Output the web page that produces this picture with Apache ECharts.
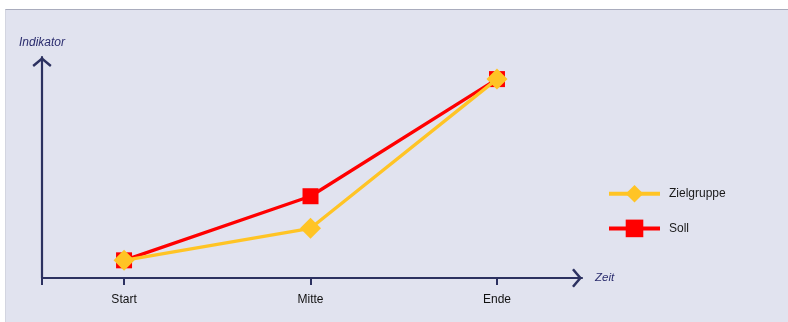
<!DOCTYPE html>
<html><head><meta charset="utf-8">
<script src="https://cdn.jsdelivr.net/npm/echarts@6/dist/echarts.min.js"></script>
<style>
html,body{margin:0;padding:0;background:#fff;}
#panel{position:absolute;left:5px;top:9px;width:783px;height:313px;background:#e1e3ef;border-top:1px solid #a9acbd;border-left:1px solid #d3d5e0;box-sizing:border-box;}
#chart{position:absolute;left:0;top:0;width:788px;height:322px;}
</style></head>
<body>
<div id="panel"></div>
<div id="chart"></div>
<script>
const categories = ['Start', 'Mitte', 'Ende'];
const zielgruppe = [8, 22.5, 90];
const soll = [8, 37, 90];
const xAxisName = 'Zeit';
const yAxisName = 'Indikator';

const navy = '#2c3160';
const chevron = 'path://M50,0 L100,42 L92,52 L50,17 L8,52 L0,42 Z';
const chart = echarts.init(document.getElementById('chart'), null, {renderer: 'canvas'});
const toXY = vals => vals.map((v, i) => [i, v]);

chart.setOption({
  backgroundColor: 'transparent',
  animation: false,
  textStyle: {fontFamily: 'Liberation Sans, Arial, sans-serif'},
  grid: {left: 42, right: 206, top: 57, bottom: 44, containLabel: false},
  legend: {
    orient: 'vertical', left: 607, top: 185, padding: 0,
    itemWidth: 51, itemHeight: 22, itemGap: 17,
    data: ['Zielgruppe', 'Soll'],
    lineStyle: {width: 4},
    textStyle: {color: '#1a1a1a', fontSize: 12, padding: [0, 0, 0, 4]}
  },
  xAxis: {
    type: 'value', min: -0.44, max: 2.456,
    name: xAxisName, nameLocation: 'end', nameGap: 13,
    nameTextStyle: {color: '#2b2d6e', fontStyle: 'italic', fontSize: 11.5},
    splitLine: {show: false},
    axisLine: {show: true, onZero: false, lineStyle: {color: navy, width: 2.2},
      symbol: ['none', chevron], symbolSize: [20, 10], symbolOffset: [0, -5]},
    axisTick: {show: true, inside: false, length: 7, lineStyle: {color: navy, width: 2},
      customValues: [-0.44, 0, 1, 2]},
    axisLabel: {show: true, customValues: [0, 1, 2], margin: 16, color: '#111', fontSize: 12,
      formatter: v => categories[Math.round(v)]}
  },
  yAxis: {
    type: 'value', min: 0, max: 100,
    name: yAxisName, nameLocation: 'end', nameGap: 8,
    nameTextStyle: {color: '#2b2d6e', fontStyle: 'italic', fontSize: 12, align: 'center'},
    splitLine: {show: false},
    axisLine: {show: true, onZero: false, lineStyle: {color: navy, width: 2.2},
      symbol: ['none', chevron], symbolSize: [20, 10], symbolOffset: [0, -5]},
    axisTick: {show: false},
    axisLabel: {show: false}
  },
  series: [
    {
      name: 'Zielgruppe', type: 'line', z: 4,
      data: toXY(zielgruppe),
      symbol: 'diamond', symbolSize: 21,
      lineStyle: {color: '#ffc425', width: 3.3},
      itemStyle: {color: '#ffc425'}
    },
    {
      name: 'Soll', type: 'line', z: 3,
      data: toXY(soll),
      symbol: 'rect', symbolSize: 16,
      lineStyle: {color: '#ff0000', width: 3.3},
      itemStyle: {color: '#ff0000'}
    }
  ]
});
</script>
</body></html>
